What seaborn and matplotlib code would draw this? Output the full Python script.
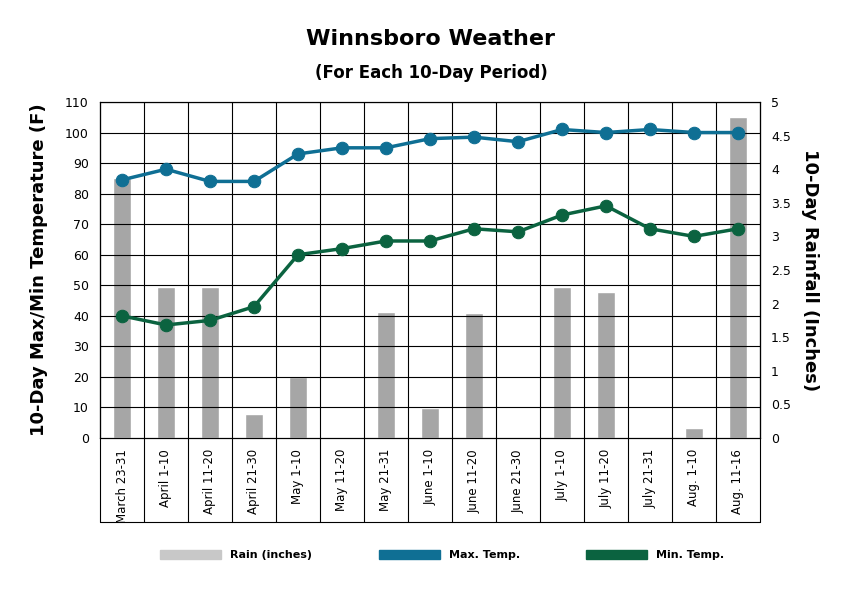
import numpy as np
import pandas as pd
import matplotlib
matplotlib.use("Agg")
import matplotlib.pyplot as plt
import seaborn as sns
from matplotlib.patches import Patch
from matplotlib.lines import Line2D

periods = ["March 23-31", "April 1-10", "April 11-20", "April 21-30", "May 1-10",
           "May 11-20", "May 21-31", "June 1-10", "June 11-20", "June 21-30",
           "July 1-10", "July 11-20", "July 21-31", "Aug. 1-10", "Aug. 11-16"]
max_temp = [84.5, 88, 84, 84, 93, 95, 95, 98, 98.5, 97, 101, 100, 101, 100, 100]
min_temp = [40, 37, 38.5, 43, 60, 62, 64.5, 64.5, 68.5, 67.5, 73, 76, 68.5, 66, 68.5]
rain = [3.87, 2.25, 2.25, 0.36, 0.91, 0, 1.88, 0.45, 1.86, 0, 2.25, 2.17, 0, 0.15, 4.78]

blue = "#0f6f94"
green = "#0b6340"
grey = "#a6a6a6"

sns.set_style("white")
plt.rcParams["font.family"] = ["DejaVu Sans"]
plt.rcParams["text.color"] = "black"
plt.rcParams["axes.labelcolor"] = "black"
plt.rcParams["xtick.color"] = "black"
plt.rcParams["ytick.color"] = "black"

df = pd.DataFrame({"period": periods, "x": np.arange(len(periods)),
                   "max": max_temp, "min": min_temp, "rain": rain})

fig = plt.figure(figsize=(8.67, 5.94), dpi=100)
ax = fig.add_axes([100 / 867, 1 - 438 / 594, 660 / 867, 336 / 594])
ax2 = ax.twinx()
ax.set_zorder(ax2.get_zorder() + 1)
ax.patch.set_visible(False)

sns.barplot(data=df, x="period", y="rain", color=grey, width=0.4, saturation=1, ax=ax2)
ax2.set_ylim(0, 5)
ax2.set_yticks(np.arange(0, 5.01, 0.5))
ax2.set_yticklabels(["0", "0.5", "1", "1.5", "2", "2.5", "3", "3.5", "4", "4.5", "5"], fontsize=9)
ax2.set_ylabel("10-Day Rainfall (Inches)", fontsize=13, fontweight="bold", rotation=270, labelpad=20)
ax2.set_xlabel("")
ax2.tick_params(axis="y", length=0, pad=8)

sns.lineplot(data=df, x="x", y="max", color=blue, lw=2.5, marker="o", markersize=9,
             markeredgecolor=blue, ax=ax)
sns.lineplot(data=df, x="x", y="min", color=green, lw=2.5, marker="o", markersize=9,
             markeredgecolor=green, ax=ax)
ax.set_xlim(-0.5, len(periods) - 0.5)
ax.set_ylim(0, 110)
ax.set_yticks(range(0, 111, 10))
ax.tick_params(axis="y", labelsize=9, length=0, pad=8)
ax.set_ylabel("10-Day Max/Min Temperature (F)", fontsize=13, fontweight="bold", labelpad=12)
ax.set_xlabel("")
ax.set_xticks(df["x"])
ax.set_xticklabels(periods, rotation=90, fontsize=8.5)
ax.tick_params(axis="x", length=0, pad=8)
ax2.tick_params(axis="x", length=0, labelbottom=False)

for y in range(10, 111, 10):
    ax.axhline(y, color="black", lw=0.8, zorder=0)
for i in range(len(periods) + 1):
    xa = i / len(periods)
    ax.add_line(Line2D([xa, xa], [-0.25, 1], transform=ax.transAxes, color="black",
                       lw=0.8, clip_on=False, zorder=0))
ax.add_line(Line2D([0, 1], [-0.25, -0.25], transform=ax.transAxes, color="black",
                   lw=0.8, clip_on=False))
for a in (ax, ax2):
    for s in a.spines.values():
        s.set_color("black")
        s.set_linewidth(0.8)

fig.text(0.497, 0.925, "Winnsboro Weather", ha="center", fontsize=16, fontweight="bold")
fig.text(0.497, 0.868, "(For Each 10-Day Period)", ha="center", fontsize=12, fontweight="bold")

handles = [Patch(color="#c8c8c8"), Patch(color=blue), Patch(color=green)]
labels = ["Rain (inches)", "Max. Temp.", "Min. Temp."]
fig.legend(handles, labels, loc="center", bbox_to_anchor=(0.51, 0.065), ncol=3,
           frameon=False, handlelength=5.5, handleheight=0.8, columnspacing=6,
           prop={"size": 8, "weight": "bold"})

fig.savefig("out.png", dpi=100)
